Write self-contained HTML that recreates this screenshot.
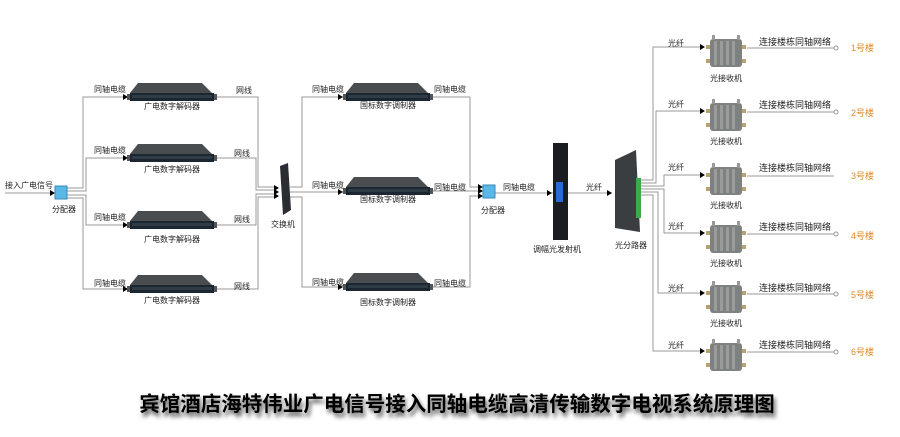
<!DOCTYPE html>
<html><head><meta charset="utf-8"><style>
html,body{margin:0;padding:0;background:#fff;width:900px;height:437px;overflow:hidden}
svg{display:block}
text{font-family:"Liberation Sans","Noto Sans CJK SC",sans-serif}
</style></head><body>
<svg width="900" height="437" viewBox="0 0 900 437" xmlns="http://www.w3.org/2000/svg">
<defs>
<g id="dec">
  <polygon points="8,0 72,0 82,10 0,10" fill="#4a4d50"/>
  <rect x="0" y="10" width="84" height="8" fill="#1c2630"/>
  <rect x="2" y="12" width="80" height="3" fill="#2e3c48"/>
  <rect x="-3" y="11" width="3" height="6" fill="#555"/>
  <rect x="84" y="11" width="3" height="6" fill="#555"/>
</g>
<g id="rx">
  <rect x="4" y="4" width="32" height="28" rx="3" fill="#7d817f"/>
  <rect x="8" y="6" width="3" height="24" fill="#999c9a"/>
  <rect x="14" y="6" width="3" height="24" fill="#999c9a"/>
  <rect x="20" y="6" width="3" height="24" fill="#999c9a"/>
  <rect x="26" y="6" width="3" height="24" fill="#999c9a"/>
  <rect x="6" y="0" width="3" height="5" fill="#999"/>
  <rect x="31" y="0" width="3" height="5" fill="#999"/>
  <rect x="0" y="10" width="4" height="4" fill="#b9a070"/>
  <rect x="36" y="10" width="4" height="4" fill="#b9a070"/>
  <rect x="36" y="24" width="4" height="4" fill="#b9a070"/>
  <rect x="0" y="24" width="4" height="4" fill="#b9a070"/>
</g>
<path id="ar" d="M0,-3 L5,0 L0,3 Z" fill="#000"/>
<filter id="sh" x="-5%" y="-30%" width="110%" height="180%"><feGaussianBlur stdDeviation="2"/></filter>
</defs>

<g stroke="#999" stroke-width="1" fill="none">
  <line x1="5" y1="193" x2="55" y2="193"/>
  <path d="M67,188 H83 V97 H128"/>
  <path d="M67,191 H86 V158 H128"/>
  <path d="M67,195 H86 V225 H128"/>
  <path d="M67,198 H83 V289 H128"/>
  <path d="M215,97 H258 V187 H274"/>
  <path d="M215,158 H256 V190 H274"/>
  <path d="M215,225 H256 V194 H274"/>
  <path d="M215,289 H258 V197 H274"/>
  <path d="M290,187 H302 V97 H343"/>
  <path d="M290,192 H343"/>
  <path d="M290,197 H302 V287 H343"/>
  <path d="M432,97 H470 V187 H483"/>
  <path d="M432,191 H483"/>
  <path d="M432,287 H470 V196 H483"/>
  <line x1="495" y1="193" x2="553" y2="193"/>
  <line x1="568" y1="193" x2="612" y2="193"/>
  <path d="M640,180 H653 V47 H702"/>
  <path d="M640,183 H656 V111 H702"/>
  <path d="M640,186 H664 V175 H702"/>
  <path d="M640,189 H664 V233 H702"/>
  <path d="M640,192 H658 V293 H702"/>
  <path d="M640,195 H653 V351 H702"/>
  <line x1="747" y1="48" x2="834" y2="48"/>
  <line x1="747" y1="112" x2="834" y2="112"/>
  <line x1="747" y1="176" x2="834" y2="176"/>
  <line x1="747" y1="234" x2="834" y2="234"/>
  <line x1="747" y1="294" x2="834" y2="294"/>
  <line x1="747" y1="352" x2="834" y2="352"/>
  <circle cx="836" cy="48" r="2"/><circle cx="836" cy="112" r="2"/>
  <circle cx="836" cy="234" r="2"/><circle cx="836" cy="294" r="2"/><circle cx="836" cy="352" r="2"/>
</g>

<use href="#ar" x="50" y="193"/>
<use href="#ar" x="123" y="97"/><use href="#ar" x="123" y="158"/><use href="#ar" x="123" y="225"/><use href="#ar" x="123" y="289"/>
<use href="#ar" x="338" y="97"/><use href="#ar" x="338" y="192"/><use href="#ar" x="338" y="287"/>
<use href="#ar" x="274" y="188"/><use href="#ar" x="274" y="192"/><use href="#ar" x="274" y="196"/>
<use href="#ar" x="478" y="187"/><use href="#ar" x="478" y="191"/><use href="#ar" x="478" y="196"/>
<use href="#ar" x="547" y="193"/><use href="#ar" x="607" y="193"/>
<use href="#ar" x="700" y="47"/><use href="#ar" x="700" y="111"/><use href="#ar" x="700" y="175"/><use href="#ar" x="700" y="233"/><use href="#ar" x="700" y="293"/><use href="#ar" x="700" y="351"/>

<rect x="55" y="186" width="12" height="13" fill="#5ab8e8" stroke="#3a8ab8"/>
<rect x="483" y="185" width="12" height="13" fill="#5ab8e8" stroke="#3a8ab8"/>

<use href="#dec" x="130" y="83"/><use href="#dec" x="130" y="144"/><use href="#dec" x="130" y="211"/><use href="#dec" x="130" y="275"/>
<use href="#dec" x="346" y="83"/><use href="#dec" x="346" y="177"/><use href="#dec" x="346" y="273"/>

<polygon points="280,166 288,163 291,210 283,215" fill="#2a2e32"/>
<rect x="553" y="143" width="15" height="97" fill="#1a1d20"/>
<rect x="556" y="182" width="7" height="20" fill="#2a6ad8"/>
<polygon points="615,160 636,150 640,232 615,228" fill="#3a3e40"/>
<rect x="636" y="178" width="5" height="40" fill="#3aaa4a"/>

<use href="#rx" x="706" y="35"/><use href="#rx" x="706" y="99"/><use href="#rx" x="706" y="163"/><use href="#rx" x="706" y="221"/><use href="#rx" x="706" y="281"/><use href="#rx" x="706" y="339"/>

<g font-size="8" fill="#222">
  <text x="5" y="188">接入广电信号</text>
  <text x="52" y="212">分配器</text>
  <text x="94" y="92">同轴电缆</text><text x="94" y="153">同轴电缆</text><text x="94" y="220">同轴电缆</text><text x="94" y="286">同轴电缆</text>
  <text x="144" y="109">广电数字解码器</text><text x="144" y="172">广电数字解码器</text><text x="144" y="242">广电数字解码器</text><text x="144" y="303">广电数字解码器</text>
  <text x="236" y="93">网线</text><text x="234" y="156">网线</text><text x="234" y="222">网线</text><text x="234" y="289">网线</text>
  <text x="271" y="227">交换机</text>
  <text x="312" y="92">同轴电缆</text><text x="312" y="188">同轴电缆</text><text x="312" y="285">同轴电缆</text>
  <text x="360" y="108">国标数字调制器</text><text x="360" y="202">国标数字调制器</text><text x="360" y="305">国标数字调制器</text>
  <text x="434" y="92">同轴电缆</text><text x="434" y="190">同轴电缆</text><text x="434" y="286">同轴电缆</text>
  <text x="481" y="213">分配器</text>
  <text x="503" y="190">同轴电缆</text>
  <text x="533" y="252">调幅光发射机</text>
  <text x="586" y="190">光纤</text>
  <text x="615" y="248">光分路器</text>
  <text x="668" y="46">光纤</text><text x="668" y="107">光纤</text><text x="668" y="170">光纤</text><text x="668" y="229">光纤</text><text x="668" y="291">光纤</text><text x="668" y="348">光纤</text>
  <text x="710" y="81">光接收机</text><text x="710" y="144">光接收机</text><text x="710" y="208">光接收机</text><text x="710" y="266">光接收机</text><text x="710" y="326">光接收机</text>
</g>
<g font-size="9" fill="#222">
  <text x="759" y="45">连接楼栋同轴网络</text><text x="759" y="108">连接楼栋同轴网络</text><text x="759" y="171">连接楼栋同轴网络</text><text x="759" y="230">连接楼栋同轴网络</text><text x="759" y="291">连接楼栋同轴网络</text><text x="759" y="348">连接楼栋同轴网络</text>
</g>
<g font-size="9" fill="#e08a2a">
  <text x="851" y="51">1号楼</text><text x="851" y="116">2号楼</text><text x="851" y="179">3号楼</text><text x="851" y="239">4号楼</text><text x="851" y="298">5号楼</text><text x="851" y="355">6号楼</text>
</g>
<text x="459" y="415" font-size="20.5" font-weight="bold" text-anchor="middle" fill="#555" filter="url(#sh)">宾馆酒店海特伟业广电信号接入同轴电缆高清传输数字电视系统原理图</text>
<text x="457" y="411" font-size="20.5" font-weight="bold" text-anchor="middle" fill="#000">宾馆酒店海特伟业广电信号接入同轴电缆高清传输数字电视系统原理图</text>
</svg>
</body></html>
